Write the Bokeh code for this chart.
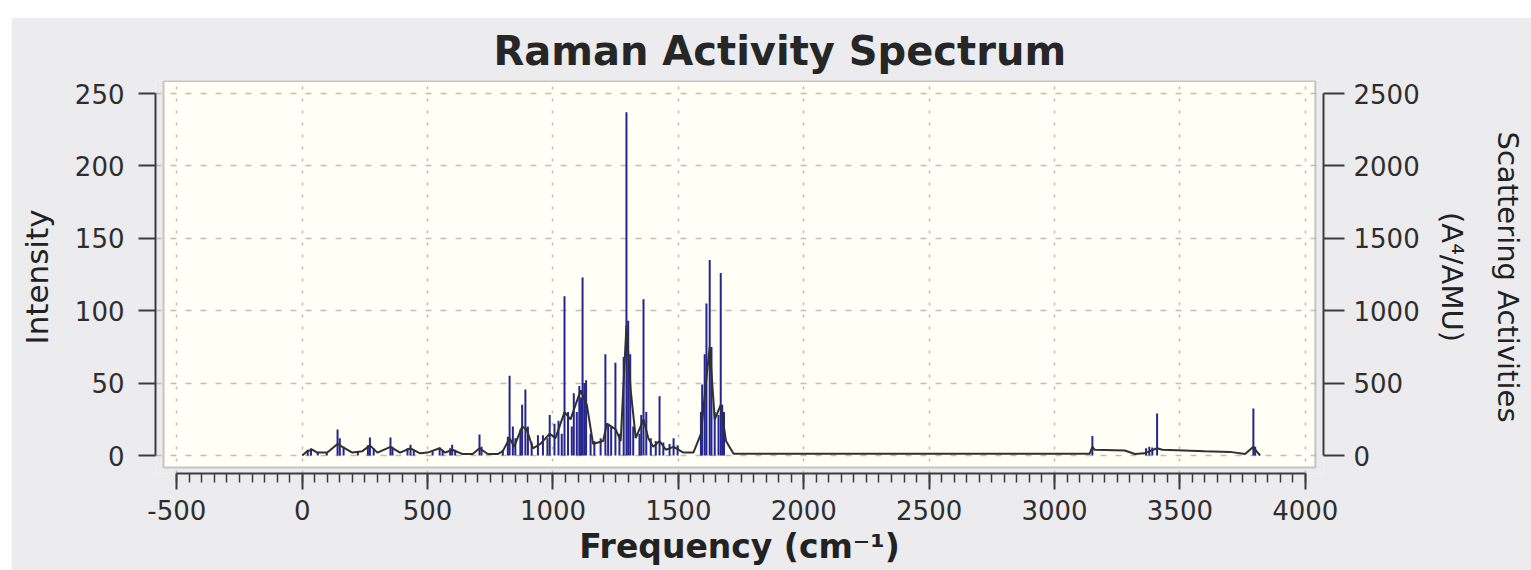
from bokeh.plotting import figure
from bokeh.models import Range1d, LinearAxis, FixedTicker, SingleIntervalTicker, PrintfTickFormatter
from bokeh.embed import file_html
from bokeh.resources import INLINE

# ---------------- data ----------------
title_text = "Raman Activity Spectrum"
x_label = "Frequency (cm\u207b\u00b9)"
y_label = "Intensity"
y2_label = "Scattering Activities\n(A\u2074/AMU)"

x_ticks_interval = 500
y_ticks = [0, 50, 100, 150, 200, 250]
y2_ticks = [0, 500, 1000, 1500, 2000, 2500]

# Raman scattering activities (A^4/AMU), right axis
stick_freq = [22, 35, 62, 98, 141, 150, 165, 222, 262, 270, 285, 352, 360, 420, 432, 445,
              520, 548, 560, 590, 598, 610, 707, 715, 800, 820, 827, 840, 850, 870, 877,
              890, 900, 915, 940, 960, 978, 987, 1006, 1022, 1035, 1046, 1060, 1075, 1083,
              1095, 1105, 1112, 1118, 1125, 1132, 1150, 1165, 1190, 1209, 1220, 1232, 1249,
              1265, 1282, 1293, 1300, 1308, 1320, 1345, 1352, 1361, 1372, 1390, 1410, 1425,
              1440, 1465, 1481, 1497, 1590, 1595, 1605, 1612, 1625, 1632, 1645, 1660, 1669,
              1675, 1682, 3151, 3365, 3378, 3390, 3409, 3793, 3800]
stick_activity = [40, 50, 25, 20, 180, 120, 60, 30, 70, 125, 50, 125, 60, 50, 75, 40,
                  30, 55, 35, 50, 75, 40, 145, 60, 40, 130, 550, 200, 120, 180, 350,
                  455, 200, 90, 140, 140, 120, 280, 220, 240, 150, 1100, 300, 200, 430,
                  300, 480, 400, 1230, 500, 520, 150, 100, 120, 700, 220, 200, 640,
                  150, 680, 2370, 930, 700, 200, 150, 280, 1080, 300, 120, 100, 410,
                  90, 80, 120, 70, 300, 490, 700, 1050, 1350, 750, 300, 280, 1260,
                  350, 300, 135, 50, 60, 55, 290, 325, 60]

# Broadened intensity curve, left axis
env_freq = [0, 20, 40, 60, 100, 141, 160, 200, 240, 270, 300, 352, 390, 432, 470, 500,
            548, 570, 598, 640, 680, 707, 740, 780, 800, 827, 845, 877, 895, 920, 950,
            987, 1010, 1046, 1070, 1110, 1135, 1160, 1200, 1215, 1250, 1270, 1293, 1310,
            1330, 1361, 1380, 1400, 1425, 1450, 1481, 1520, 1560, 1590, 1610, 1625, 1645,
            1669, 1690, 1720, 3140, 3151, 3160, 3280, 3320, 3360, 3380, 3409, 3430, 3600,
            3700, 3760, 3793, 3805, 3820]
env_intensity = [0, 3, 4, 2, 2, 8, 6, 2, 3, 7, 2, 6, 2, 5, 1.5, 2,
                 5, 2, 4, 1, 1, 5, 1, 1, 3, 12, 6, 20, 18, 5, 8,
                 15, 12, 30, 25, 45, 35, 8, 10, 22, 18, 10, 90, 45,
                 12, 25, 12, 6, 10, 4, 6, 2, 2, 15, 50, 75, 25,
                 35, 10, 1.2, 1.2, 6, 4, 3.5, 1.0, 1.5, 3, 5, 4, 3,
                 2.5, 1.0, 6, 3, 0]

# ---------------- styling ----------------
PANEL = "#ECEBEE"
CREAM = "#FFFFF5"
AXIS = "#3c3c3c"
TXT = "#2e2e2e"
GRID = "#BDBDBD"

X_START, X_END = -585, 4072.6
Y_START, Y_END = -12.43, 259.0
Y2_START, Y2_END = -124.3, 2590.0
AREA_X0, AREA_X1, AREA_Y0, AREA_Y1 = -553, 4040, -8.3, 258.6

p = figure(width=1520, height=553, output_backend="svg", toolbar_location=None,
           x_range=Range1d(X_START, X_END), y_range=Range1d(Y_START, Y_END),
           min_border_left=144, min_border_right=208, min_border_top=63, min_border_bottom=97)
p.margin = (17, 0, 0, 11)
p.extra_y_ranges = {"act": Range1d(Y2_START, Y2_END)}
p.background_fill_color = PANEL
p.border_fill_color = PANEL
p.outline_line_color = None

# plot area (cream) painted below the grid
p.quad(left=[AREA_X0], right=[AREA_X1], bottom=[AREA_Y0], top=[AREA_Y1],
       fill_color=CREAM, line_color="#C4C4C4", line_width=2, level="image")

# title
p.title.text = title_text
p.title.text_font = "DejaVu Sans"
p.title.text_font_style = "bold"
p.title.text_font_size = "40px"
p.title.text_color = "#262626"
p.title.align = "left"
p.title.offset = 338
p.title.standoff = 14

fmt = "%d"

# x axis
xa = p.xaxis[0]
xa.ticker = SingleIntervalTicker(interval=x_ticks_interval, num_minor_ticks=10)
xa.formatter = PrintfTickFormatter(format=fmt)
xa.bounds = (-500, 4000)
xa.axis_line_color = AXIS
xa.axis_line_width = 2
xa.major_tick_in = 0
xa.major_tick_out = 16
xa.minor_tick_in = 0
xa.minor_tick_out = 9
xa.major_tick_line_color = AXIS
xa.minor_tick_line_color = AXIS
xa.major_tick_line_width = 2
xa.minor_tick_line_width = 1.5
xa.major_label_text_font = "DejaVu Sans"
xa.major_label_text_font_size = "26px"
xa.major_label_text_color = TXT
xa.major_label_standoff = 10
xa.axis_label = x_label
xa.axis_label_text_font = "DejaVu Sans"
xa.axis_label_text_font_style = "bold"
xa.axis_label_text_font_size = "33px"
xa.axis_label_text_color = "#222222"
xa.axis_label_standoff = 4

# left y axis
ya = p.yaxis[0]
ya.ticker = FixedTicker(ticks=y_ticks)
ya.formatter = PrintfTickFormatter(format=fmt)
ya.bounds = (0, 250)
ya.axis_line_color = AXIS
ya.axis_line_width = 2
ya.major_tick_in = 0
ya.major_tick_out = 17
ya.major_tick_line_color = AXIS
ya.major_tick_line_width = 2
ya.minor_tick_line_color = None
ya.major_label_text_font = "DejaVu Sans"
ya.major_label_text_font_size = "26px"
ya.major_label_text_color = TXT
ya.major_label_standoff = 14
ya.axis_label = y_label
ya.axis_label_text_font = "DejaVu Sans"
ya.axis_label_text_font_style = "normal"
ya.axis_label_text_font_size = "31px"
ya.axis_label_text_color = "#222222"
ya.axis_label_standoff = 17

# right y axis
ra = LinearAxis(y_range_name="act", ticker=FixedTicker(ticks=y2_ticks), bounds=(0, 2500))
ra.formatter = PrintfTickFormatter(format=fmt)
ra.axis_line_color = AXIS
ra.axis_line_width = 2
ra.major_tick_in = 0
ra.major_tick_out = 21
ra.major_tick_line_color = AXIS
ra.major_tick_line_width = 2
ra.minor_tick_line_color = None
ra.major_label_text_font = "DejaVu Sans"
ra.major_label_text_font_size = "26px"
ra.major_label_text_color = TXT
ra.major_label_standoff = 9
ra.axis_label = y2_label
ra.axis_label_text_font = "DejaVu Sans"
ra.axis_label_text_font_style = "normal"
ra.axis_label_text_font_size = "29px"
ra.axis_label_text_line_height = 1.65
ra.axis_label_text_color = "#222222"
ra.axis_label_standoff = 12
p.add_layout(ra, "right")

# grids
p.xgrid.grid_line_color = GRID
p.xgrid.grid_line_dash = "3 9"
p.xgrid.grid_line_width = 1.5
p.ygrid.ticker = FixedTicker(ticks=y_ticks)
p.ygrid.grid_line_color = GRID
p.ygrid.grid_line_dash = "6 9"
p.ygrid.grid_line_width = 1.5

# data
p.segment(x0=stick_freq, y0=[0] * len(stick_freq), x1=stick_freq, y1=stick_activity,
          y_range_name="act", line_color="#25258f", line_width=2)
p.line(env_freq, env_intensity, line_color="#303030", line_width=2)

open("out.html", "w").write(file_html(p, INLINE))
